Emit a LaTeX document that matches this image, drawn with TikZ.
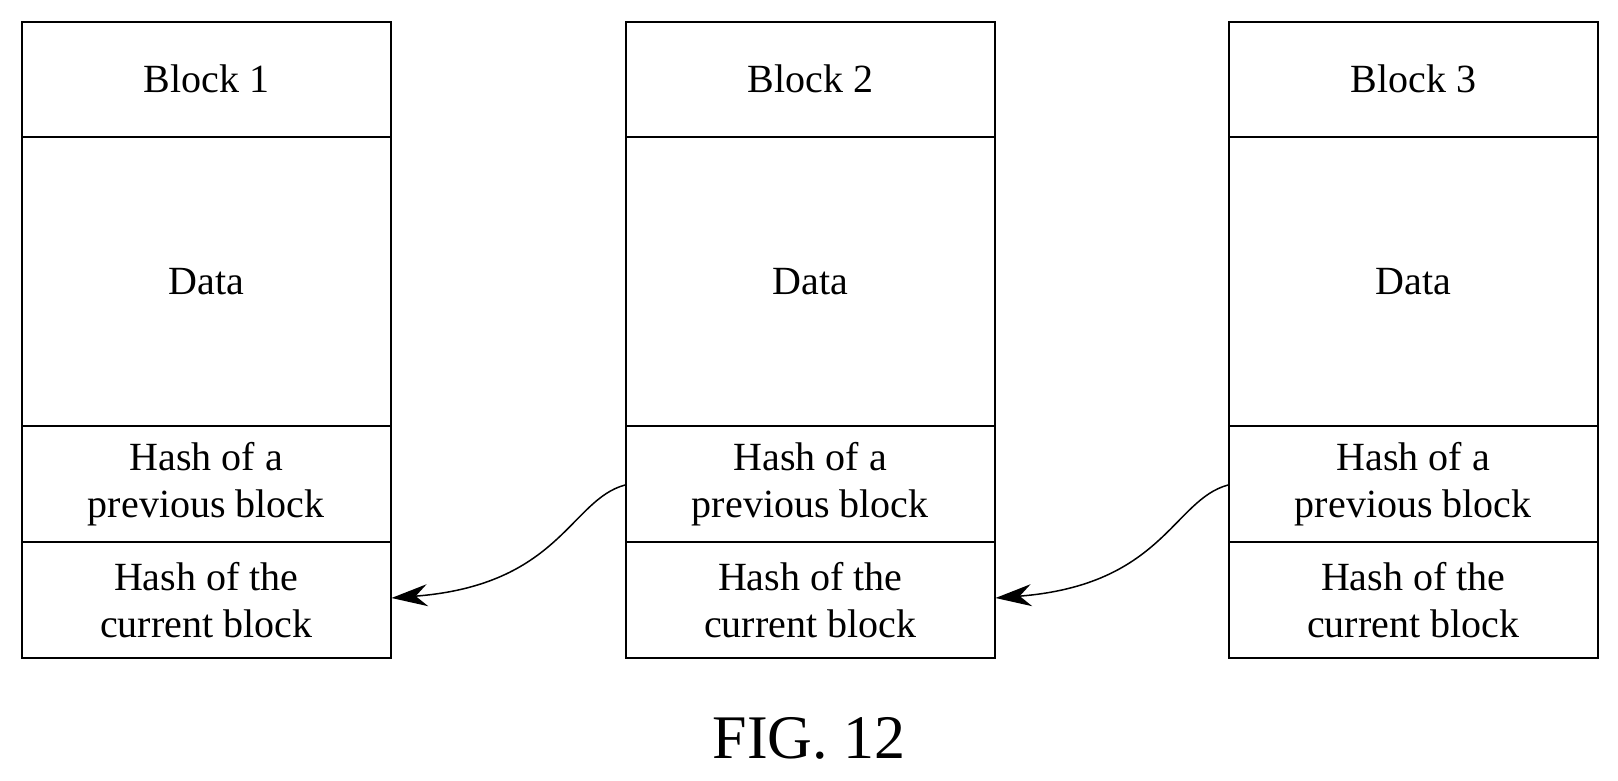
\documentclass[tikz,border=0pt]{standalone}
\usepackage{fontspec}
\setmainfont{Liberation Serif}
\usetikzlibrary{arrows.meta}
\begin{document}
\begin{tikzpicture}[x=1pt,y=-1pt,
  cell/.style={draw,line width=1.5pt,minimum width=369pt,anchor=north west,inner sep=0pt,align=center,font=\fontsize{40}{47}\selectfont},
  link/.style={line width=1.5pt,-{Stealth[length=36pt,width=22pt]}}]
\useasboundingbox (0,0) rectangle (1618,780);
\foreach \i/\x in {1/21,2/625,3/1228}{
  \node[cell,minimum height=115pt] (t\i) at (\x,21) {Block \i};
  \node[cell,minimum height=289pt] (d\i) at (\x,136) {Data};
  \node[cell,minimum height=116pt] (p\i) at (\x,425) {Hash of a\\previous block};
  \node[cell,minimum height=116pt] (c\i) at (\x,541) {Hash of the\\current block};
}
\coordinate (s2) at (625,485);
\coordinate (s3) at (1228,485);
\draw[link] (s2) .. controls (570,500) and (560,585) .. (c1.east |- 0,598);
\draw[link] (s3) .. controls (1173,500) and (1163,585) .. (c2.east |- 0,598);
\node[font=\fontsize{62}{64}\selectfont] (fig) at (809,738) {FIG. 12};
\end{tikzpicture}
\end{document}
